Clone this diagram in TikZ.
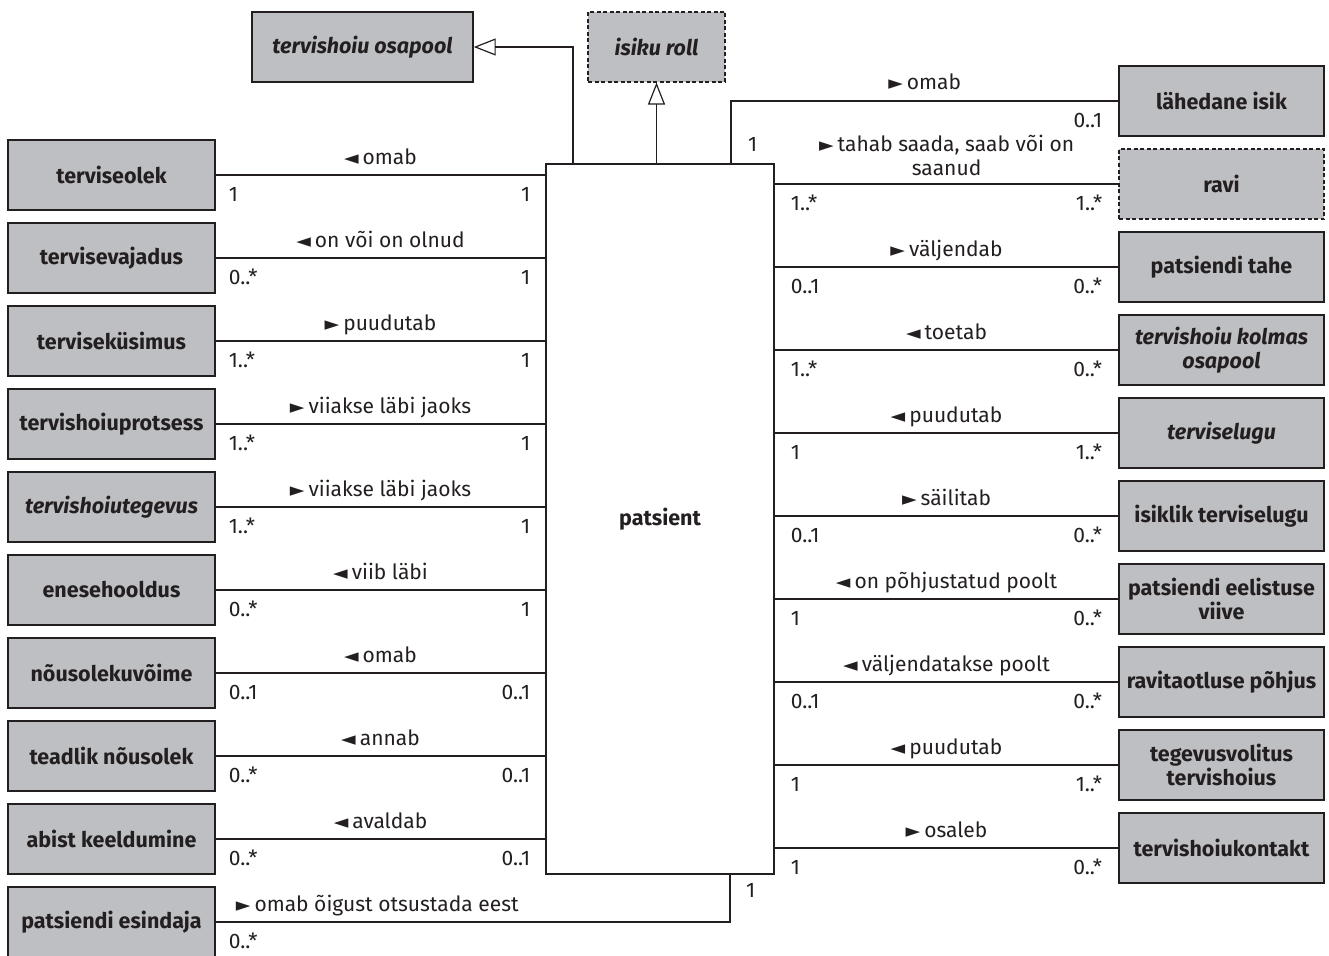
\documentclass[tikz,border=0pt]{standalone}
\usepackage{fontspec}
\setmainfont{Fira Sans}
\newfontfamily\symf{DejaVu Sans}
\usetikzlibrary{arrows.meta,calc}
\definecolor{boxfill}{RGB}{190,191,194}
\definecolor{ink}{RGB}{35,31,32}
\newcommand\rarr{{\symf\fontsize{19}{19}\selectfont\raisebox{0pt}{►}}\hspace{4pt}}
\newcommand\larr{{\symf\fontsize{19}{19}\selectfont\raisebox{0pt}{◄}}\hspace{4pt}}
\tikzset{
  cls/.style={draw=ink, line width=1.4pt, fill=boxfill, minimum width=207pt, minimum height=70pt,
    inner sep=2pt, font=\fontsize{21.5}{24}\selectfont\bfseries, text=ink, align=center},
  rcls/.style={cls, minimum width=205pt},
  abst/.style={font=\fontsize{21.5}{24}\selectfont\bfseries\itshape},
  dashedbox/.style={dash pattern=on 4pt off 2.5pt, line width=1.1pt},
  conn/.style={draw=ink, line width=1.2pt},
  lbl/.style={font=\fontsize{21}{24}\selectfont, text=ink, inner sep=0pt, anchor=base},
  gen/.style={conn, -{Triangle[open, length=22pt, width=17pt, line width=1.2pt]}}
}
\begin{document}
\begin{tikzpicture}[x=1pt, y=-1pt]
\useasboundingbox (0,0) rectangle (1329,955);
% central class
\node[draw=ink, line width=1.4pt, fill=white, minimum width=228pt, minimum height=710pt,
  font=\fontsize{21.5}{24}\selectfont\bfseries, text=ink] (pat) at (660,519) {patsient};
% top classes
\node[cls, abst, minimum width=221pt] (osa) at (362.5,47) {tervishoiu osapool};
\node[cls, abst, dashedbox, minimum width=137pt] (roll) at (656.5,47) {isiku roll};
% left classes
\node[cls] (l0) at (111.5,175) {terviseolek};
\node[cls] (l1) at (111.5,258) {tervisevajadus};
\node[cls] (l2) at (111.5,341) {terviseküsimus};
\node[cls] (l3) at (111.5,424) {tervishoiuprotsess};
\node[cls, abst] (l4) at (111.5,507) {tervishoiutegevus};
\node[cls] (l5) at (111.5,590) {enesehooldus};
\node[cls] (l6) at (111.5,673) {nõusolekuvõime};
\node[cls] (l7) at (111.5,756) {teadlik nõusolek};
\node[cls] (l8) at (111.5,839) {abist keeldumine};
\node[cls] (l9) at (111.5,922) {patsiendi esindaja};
% right classes
\node[rcls] (r0) at (1221.5,101) {lähedane isik};
\node[rcls, dashedbox] (r1) at (1221.5,184) {ravi};
\node[rcls] (r2) at (1221.5,267) {patsiendi tahe};
\node[rcls, abst] (r3) at (1221.5,350) {tervishoiu kolmas\\osapool};
\node[rcls, abst] (r4) at (1221.5,433) {terviselugu};
\node[rcls] (r5) at (1221.5,516) {isiklik terviselugu};
\node[rcls] (r6) at (1221.5,599) {patsiendi eelistuse\\viive};
\node[rcls] (r7) at (1221.5,682) {ravitaotluse põhjus};
\node[rcls] (r8) at (1221.5,765) {tegevusvolitus\\tervishoius};
\node[rcls] (r9) at (1221.5,848) {tervishoiukontakt};
% generalizations
\coordinate (g1) at ([xshift=-87pt]pat.north);
\draw[gen] (g1) |- (osa.east);
\draw[gen] (roll.south |- pat.north) -- (roll.south);
% left associations
\foreach \n/\lab/\ma/\mb in {
  l0/{\larr omab}/1/1,
  l1/{\larr on või on olnud}/0..*/1,
  l2/{\rarr puudutab}/1..*/1,
  l3/{\rarr viiakse läbi jaoks}/1..*/1,
  l4/{\rarr viiakse läbi jaoks}/1..*/1,
  l5/{\larr viib läbi}/0..*/1,
  l6/{\larr omab}/0..1/0..1,
  l7/{\larr annab}/0..*/0..1,
  l8/{\larr avaldab}/0..*/0..1}{
  \draw[conn] (\n.east) -- (\n.east -| pat.west) coordinate[midway] (\n m);
  \node[lbl] (\n lab) at ($(\n m)+(0,-11)$) {\lab};
  \node[lbl, anchor=base west] (\n ma) at ($(\n.east)+(13,26)$) {\ma};
  \node[lbl, anchor=base east] (\n mb) at ($(\n.east -| pat.west)+(-15,26)$) {\mb};
}
% right associations
\foreach \n/\lab/\ma/\mb in {
  r2/{\rarr väljendab}/0..1/0..*,
  r3/{\larr toetab}/1..*/0..*,
  r4/{\larr puudutab}/1/1..*,
  r5/{\rarr säilitab}/0..1/0..*,
  r6/{\larr on põhjustatud poolt}/1/0..*,
  r7/{\larr väljendatakse poolt}/0..1/0..*,
  r8/{\larr puudutab}/1/1..*,
  r9/{\rarr osaleb}/1/0..*}{
  \draw[conn] (pat.east |- \n.west) -- (\n.west) coordinate[midway] (\n m);
  \node[lbl] (\n lab) at ($(\n m)+(0,-11)$) {\lab};
  \node[lbl, anchor=base west] (\n ma) at ($(pat.east |- \n.west)+(16,26)$) {\ma};
  \node[lbl, anchor=base east] (\n mb) at ($(\n.west)+(-16,26)$) {\mb};
}
% ravi
\draw[conn] (pat.east |- r1.west) -- (r1.west) coordinate[midway] (r1m);
\node[lbl, align=center] (r1lab) at ($(r1m)+(0,-9)$) {\rarr tahab saada, saab või on\\saanud};
\node[lbl, anchor=base west] (r1ma) at ($(pat.east |- r1.west)+(16,26)$) {1..*};
\node[lbl, anchor=base east] (r1mb) at ($(r1.west)+(-16,26)$) {1..*};
% lähedane isik
\coordinate (pt) at ([xshift=71pt]pat.north);
\draw[conn] (pt) |- (r0.west) coordinate[pos=0.75] (r0m);
\node[lbl] (r0lab) at ($(r0m)+(0,-11)$) {\rarr omab};
\node[lbl, anchor=base west] (r0ma) at ($(pt)+(17,-12)$) {1};
\node[lbl, anchor=base east] (r0mb) at ($(r0.west)+(-16,27)$) {0..1};
% patsiendi esindaja
\coordinate (pb) at ([xshift=70pt]pat.south);
\draw[conn] (l9.east) -| (pb);
\node[lbl, anchor=base west] (l9lab) at ($(l9.east)+(20,-11)$) {\rarr omab õigust otsustada eest};
\node[lbl, anchor=base west] (l9ma) at ($(l9.east)+(13,26)$) {0..*};
\node[lbl, anchor=base west] (l9mb) at ($(pb)+(16,23)$) {1};
\end{tikzpicture}
\end{document}
